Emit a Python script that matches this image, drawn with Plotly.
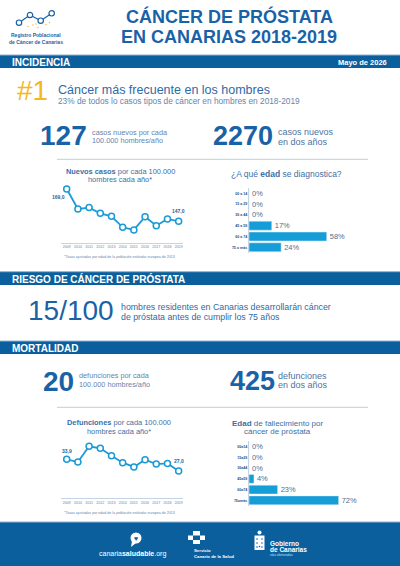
import plotly.graph_objects as go

# ---- datos ----
years = [2009, 2010, 2011, 2012, 2013, 2014, 2015, 2016, 2017, 2018, 2019]
incidence_rate = [169.0, 155.4, 156.3, 152.4, 150.4, 142.9, 141.1, 150.1, 144.0, 148.6, 147.0]
mortality_rate = [33.9, 32.3, 41.6, 40.4, 36.0, 31.9, 29.4, 33.7, 31.1, 31.5, 27.0]

age_groups_inc = ["00 a 14", "15 a 29", "30 a 44", "45 a 59", "60 a 74", "75 o más"]
age_groups_mort = ["00a14", "15a29", "30a44", "45a59", "60a74", "75omás"]
diagnosis_pct = [0, 0, 0, 17, 58, 24]
death_pct = [0, 0, 0, 4, 23, 72]

W, H = 400, 566
FONT = "Liberation Sans, Arial, sans-serif"
DARK = "#1a62a6"
BAND = "#0b5f9c"
LINE = "#1b9ad7"
BAR = "#149dd7"
TXT = "#3c6fa6"
SOFT = "#6585ad"
AXIS = "#c2d4e6"


def X(px):
    return px / W


def Y(py):
    return 1 - py / H


def fmt(v):
    return f"{v:.1f}".replace(".", ",")


fig = go.Figure()

# incidencia - linea
fig.add_trace(go.Scatter(
    x=years, y=incidence_rate, xaxis="x", yaxis="y", mode="lines+markers",
    line=dict(color=LINE, width=1.8),
    marker=dict(size=6, color="white", line=dict(color=LINE, width=1.5)),
    cliponaxis=False, hoverinfo="skip"))

# incidencia - barras
fig.add_trace(go.Bar(
    x=diagnosis_pct, y=age_groups_inc, orientation="h", xaxis="x2", yaxis="y2",
    marker=dict(color=BAR), text=[f"{v}%" for v in diagnosis_pct],
    textposition="outside", textfont=dict(size=7.5, color="#4a6d92"),
    cliponaxis=False, hoverinfo="skip"))

# mortalidad - linea
fig.add_trace(go.Scatter(
    x=years, y=mortality_rate, xaxis="x3", yaxis="y3", mode="lines+markers",
    line=dict(color=LINE, width=1.8),
    marker=dict(size=6, color="white", line=dict(color=LINE, width=1.5)),
    cliponaxis=False, hoverinfo="skip"))

# mortalidad - barras
fig.add_trace(go.Bar(
    x=death_pct, y=age_groups_mort, orientation="h", xaxis="x4", yaxis="y4",
    marker=dict(color=BAR), text=[f"{v}%" for v in death_pct],
    textposition="outside", textfont=dict(size=7.5, color="#4a6d92"),
    cliponaxis=False, hoverinfo="skip"))

year_axis = dict(range=[2008.49, 2019.36], showline=True, linecolor=AXIS, linewidth=1,
                 showgrid=False, zeroline=False, ticks="", tickvals=years,
                 ticktext=[str(y) for y in years], tickfont=dict(size=3.6, color=SOFT),
                 fixedrange=True)
cat_axis = dict(type="category", autorange="reversed", showline=True, linecolor=AXIS,
                linewidth=1, showgrid=False, zeroline=False, ticks="",
                tickfont=dict(size=3.6, color="#1a4f86", weight="bold"))

fig.update_layout(
    width=W, height=H, margin=dict(l=0, r=0, t=0, b=0),
    paper_bgcolor="white", plot_bgcolor="white", showlegend=False,
    font=dict(family=FONT, color=TXT), bargap=0.17,
    xaxis=dict(domain=[0.1525, 0.4567], anchor="y", **year_axis),
    yaxis=dict(domain=[Y(242.7), Y(185)], range=[132.4, 171.7], visible=False, anchor="x"),
    xaxis2=dict(domain=[X(249), X(383)], range=[0, 100], visible=False, anchor="y2"),
    yaxis2=dict(domain=[Y(252.7), Y(187.9)], anchor="x2", **cat_axis),
    xaxis3=dict(domain=[0.1525, 0.4567], anchor="y3", **year_axis),
    yaxis3=dict(domain=[Y(498.3), Y(440)], range=[10.9, 45.3], visible=False, anchor="x3"),
    xaxis4=dict(domain=[X(249), X(373.5)], range=[0, 100], visible=False, anchor="y4"),
    yaxis4=dict(domain=[Y(505.7), Y(441.3)], anchor="x4", **cat_axis),
)

shapes = []
annotations = []


def text(t, x, y, size, color=TXT, xa="left", ya="middle"):
    annotations.append(dict(text=t, x=X(x), y=Y(y), xref="paper", yref="paper",
                            xanchor=xa, yanchor=ya, showarrow=False,
                            font=dict(size=size, color=color, family=FONT)))


def band(y0, y1, label, right=None):
    shapes.append(dict(type="rect", xref="paper", yref="paper", x0=0, x1=1,
                       y0=Y(y1), y1=Y(y0), fillcolor=BAND, line=dict(width=0), layer="below"))
    shapes.append(dict(type="line", xref="paper", yref="paper", x0=0, x1=1,
                       y0=Y(y0), y1=Y(y0), line=dict(color="#8fb3d4", width=1)))
    text(f"<b>{label}</b>", 10, (y0 + y1) / 2 + 0.5, 10, "white")
    if right:
        text(f"<b>{right}</b>", 389, (y0 + y1) / 2 + 0.5, 7.5, "white", xa="right")


def hline(y, x0, x1):
    shapes.append(dict(type="line", xref="paper", yref="paper", x0=X(x0), x1=X(x1),
                       y0=Y(y), y1=Y(y), line=dict(color="#bccfe2", width=1)))


def circle(cx, cy, r, fill, stroke=None, w=0):
    shapes.append(dict(type="circle", xref="paper", yref="paper",
                       x0=X(cx - r), x1=X(cx + r), y0=Y(cy + r), y1=Y(cy - r),
                       fillcolor=fill, line=dict(color=stroke or fill, width=w)))


def rect(x0, y0, x1, y1, fill):
    shapes.append(dict(type="rect", xref="paper", yref="paper", x0=X(x0), x1=X(x1),
                       y0=Y(y1), y1=Y(y0), fillcolor=fill, line=dict(width=0)))


# ---- cabecera ----
nodes = [(19, 22.7), (30, 15), (40.7, 20.7), (51.7, 13.3)]
for (ax, ay), (bx, by) in zip(nodes[:-1], nodes[1:]):
    shapes.append(dict(type="line", xref="paper", yref="paper", x0=X(ax), x1=X(bx),
                       y0=Y(ay), y1=Y(by), line=dict(color=DARK, width=1.2)))
for nx, ny in nodes:
    circle(nx, ny, 2.7, "white", DARK, 1.2)
for dx, dy in [(28, 26.5), (33, 25), (38, 27.5), (46, 24.5), (49.5, 22.5), (36, 24)]:
    circle(dx, dy, 0.7, "#f2b61f")
text("<b>Registro Poblacional</b>", 36, 35, 5, DARK, xa="center")
text("<b>de Cáncer de Canarias</b>", 36, 42.5, 5, DARK, xa="center")

text("<b>CÁNCER DE PRÓSTATA</b>", 229, 16.5, 18, DARK, xa="center")
text("<b>EN CANARIAS 2018-2019</b>", 229, 37, 18, DARK, xa="center")

# ---- incidencia ----
band(55, 68, "INCIDENCIA", "Mayo de 2026")
text("#1", 15, 90, 28, "#f5b81c")
text("Cáncer más frecuente en los hombres", 56, 90, 12.5, "#2f6aa6")
text("23% de todos lo casos tipos de cáncer en hombres en 2018-2019", 56, 101, 8.3, SOFT)

text("<b>127</b>", 38, 136, 28, DARK)
text("casos nuevos por cada", 90, 132.3, 7.3, SOFT)
text("100.000 hombres/año", 90, 140.7, 7.3, SOFT)
text("<b>2270</b>", 211, 136, 27, DARK)
text("casos nuevos", 276, 132.2, 9, "#4c74a2")
text("en dos años", 276, 141.8, 9, "#4c74a2")
hline(159.3, 57, 368)

text("<b>Nuevos casos</b> por cada 100.000", 120, 171.1, 7.4, TXT, xa="center")
text("hombres cada año*", 120, 179.2, 7.4, TXT, xa="center")
text("¿A qué <b>edad</b> se diagnostica?", 229, 174, 8.5, TXT)
text("*Tasas ajustadas por edad de la población estándar europea de 2013", 62, 257, 3.6, SOFT)

annotations.append(dict(text=f"<b>{fmt(incidence_rate[0])}</b>", x=years[0], y=incidence_rate[0],
                        xref="x", yref="y", showarrow=False, xshift=-8, yshift=-8,
                        font=dict(size=5, color="#2a5f95")))
annotations.append(dict(text=f"<b>{fmt(incidence_rate[-1])}</b>", x=years[-1], y=incidence_rate[-1],
                        xref="x", yref="y", showarrow=False, yshift=10,
                        font=dict(size=5, color="#2a5f95")))

# ---- riesgo ----
band(271.7, 285, "RIESGO DE CÁNCER DE PRÓSTATA")
text("15/100", 26, 310, 28, DARK)
text("hombres residentes en Canarias desarrollarán cáncer", 119, 306.5, 8.8, "#2e6aa6")
text("de próstata antes de cumplir los 75 años", 119, 316.7, 8.8, "#2e6aa6")

# ---- mortalidad ----
band(341, 354, "MORTALIDAD")
text("<b>20</b>", 41, 381, 28, DARK)
text("defunciones por cada", 77, 376, 7.3, SOFT)
text("100.000 hombres/año", 77, 385, 7.3, SOFT)
text("<b>425</b>", 228, 381, 27, DARK)
text("defunciones", 276, 375.8, 9, "#4c74a2")
text("en dos años", 276, 385.4, 9, "#4c74a2")
hline(407.3, 57, 368)

text("<b>Defunciones</b> por cada 100.000", 119, 422.9, 7.4, TXT, xa="center")
text("hombres cada año*", 119, 431, 7.4, TXT, xa="center")
text("<b>Edad</b> de fallecimiento por", 277.5, 423.7, 8, TXT, xa="center")
text("cáncer de próstata", 277.5, 431.3, 8, TXT, xa="center")
text("*Tasas ajustadas por edad de la población estándar europea de 2013", 62, 512.7, 3.6, SOFT)

annotations.append(dict(text=f"<b>{fmt(mortality_rate[0])}</b>", x=years[0], y=mortality_rate[0],
                        xref="x3", yref="y3", showarrow=False, yshift=8,
                        font=dict(size=5, color="#2a5f95")))
annotations.append(dict(text=f"<b>{fmt(mortality_rate[-1])}</b>", x=years[-1], y=mortality_rate[-1],
                        xref="x3", yref="y3", showarrow=False, yshift=10,
                        font=dict(size=5, color="#2a5f95")))

# ---- pie ----
shapes.append(dict(type="rect", xref="paper", yref="paper", x0=0, x1=1, y0=0, y1=Y(522),
                   fillcolor=BAND, line=dict(width=0), layer="below"))
shapes.append(dict(type="line", xref="paper", yref="paper", x0=0, x1=1, y0=Y(522), y1=Y(522),
                   line=dict(color="#8fb3d4", width=1)))

# canariasaludable
circle(136, 538, 5.5, "white")
shapes.append(dict(type="path", xref="paper", yref="paper",
                   path=f"M {X(132)} {Y(541)} L {X(131)} {Y(547)} L {X(136)} {Y(543)} Z",
                   fillcolor="white", line=dict(width=0)))
text("♥", 136, 538, 7, BAND, xa="center")
text("canaria<b>saludable</b>.org", 132.5, 554.3, 7, "white", xa="center")

# servicio canario de la salud
rect(193, 531, 200, 535.5, "white")
rect(188, 535.5, 193, 540, "white")
rect(200, 535.5, 205, 540, "white")
rect(193, 540, 200, 544, "white")
text("<b>Servicio</b>", 192, 550.7, 4.3, "white")
text("<b>Canario de la Salud</b>", 192, 556, 4.3, "white")

# gobierno de canarias
circle(259.5, 532.5, 2, "white")
rect(254.5, 535.5, 264.5, 550, "white")
for ix, iy in [(257, 539), (262, 539), (257, 543), (262, 543), (259.5, 546.5), (257, 547), (262, 547)]:
    circle(ix, iy, 0.8, BAND)
text("<b>Gobierno</b>", 267.5, 543, 6.5, "white")
text("<b>de Canarias</b>", 267.5, 549, 6.5, "white")
text("islas afortunadas", 267.5, 555, 3, "#cfe0ef")

fig.update_layout(shapes=shapes, annotations=annotations)

fig.write_html("out.html", config={"displayModeBar": False},
               post_script="document.body.style.margin='0';document.body.style.overflow='hidden';")
